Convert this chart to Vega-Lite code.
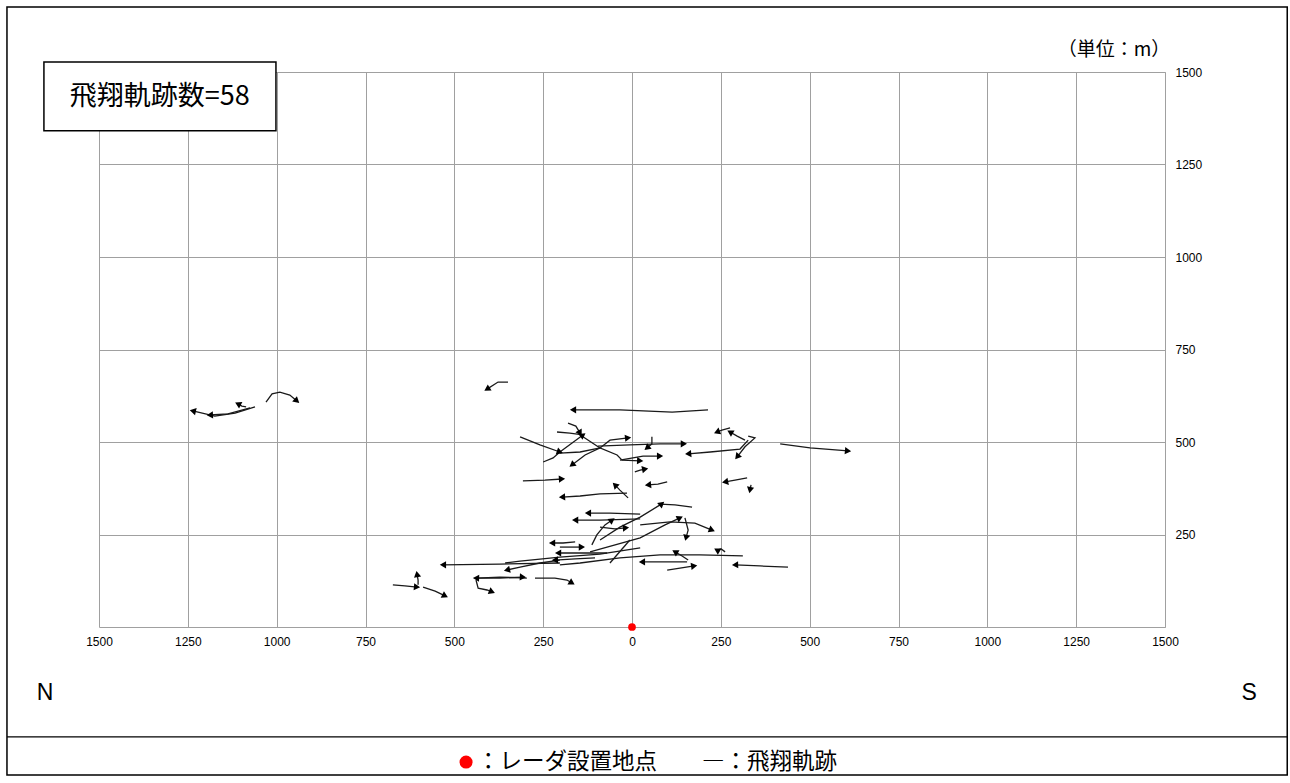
{
  "$schema": "https://vega.github.io/schema/vega-lite/v6.json",
  "width": 1066,
  "height": 555,
  "autosize": {"type": "none"},
  "padding": {"left": 99, "top": 72, "right": 125, "bottom": 156},
  "background": "white",
  "config": {"view": {"stroke": null}, "font": "Liberation Sans"},
  "datasets": {
    "tracks": [
      {"t":1,"o":1,"x":-1061,"y":595},{"t":1,"o":2,"x":-1117,"y":578},{"t":1,"o":3,"x":-1174,"y":570},{"t":1,"o":4,"x":-1236,"y":584},
      {"t":2,"o":1,"x":-1075,"y":592},{"t":2,"o":2,"x":-1137,"y":576},{"t":2,"o":3,"x":-1188,"y":573},
      {"t":3,"o":1,"x":-1086,"y":595},{"t":3,"o":2,"x":-1098,"y":597},{"t":3,"o":3,"x":-1109,"y":603},
      {"t":4,"o":1,"x":-1030,"y":608},{"t":4,"o":2,"x":-1013,"y":630},{"t":4,"o":3,"x":-991,"y":635},{"t":4,"o":4,"x":-963,"y":627},{"t":4,"o":5,"x":-943,"y":611},
      {"t":5,"o":1,"x":-349,"y":662},{"t":5,"o":2,"x":-377,"y":662},{"t":5,"o":3,"x":-408,"y":643},
      {"t":6,"o":1,"x":214,"y":587},{"t":6,"o":2,"x":113,"y":581},{"t":6,"o":3,"x":-34,"y":587},{"t":6,"o":4,"x":-166,"y":587},
      {"t":7,"o":1,"x":-315,"y":514},{"t":7,"o":2,"x":-259,"y":492},{"t":7,"o":3,"x":-203,"y":473},
      {"t":8,"o":1,"x":-250,"y":446},{"t":8,"o":2,"x":-222,"y":457},{"t":8,"o":3,"x":-203,"y":473},{"t":8,"o":4,"x":-138,"y":519},
      {"t":9,"o":1,"x":-211,"y":527},{"t":9,"o":2,"x":-175,"y":524},{"t":9,"o":3,"x":-138,"y":519},
      {"t":10,"o":1,"x":-180,"y":551},{"t":10,"o":2,"x":-158,"y":543},{"t":10,"o":3,"x":-146,"y":524},
      {"t":11,"o":1,"x":-138,"y":514},{"t":11,"o":2,"x":-90,"y":484},{"t":11,"o":3,"x":-62,"y":505},{"t":11,"o":4,"x":-11,"y":511},
      {"t":12,"o":1,"x":-90,"y":484},{"t":12,"o":2,"x":-132,"y":465},{"t":12,"o":3,"x":-169,"y":438},
      {"t":13,"o":1,"x":-203,"y":470},{"t":13,"o":2,"x":-146,"y":473},{"t":13,"o":3,"x":-90,"y":484},{"t":13,"o":4,"x":-42,"y":465},{"t":13,"o":5,"x":-28,"y":451},{"t":13,"o":6,"x":23,"y":449},
      {"t":14,"o":1,"x":-307,"y":395},{"t":14,"o":2,"x":-245,"y":397},{"t":14,"o":3,"x":-197,"y":400},
      {"t":15,"o":1,"x":-96,"y":489},{"t":15,"o":2,"x":-6,"y":492},{"t":15,"o":3,"x":79,"y":495},{"t":15,"o":4,"x":146,"y":495},
      {"t":16,"o":1,"x":56,"y":514},{"t":16,"o":2,"x":56,"y":495},{"t":16,"o":3,"x":42,"y":484},
      {"t":17,"o":1,"x":-34,"y":451},{"t":17,"o":2,"x":31,"y":462},{"t":17,"o":3,"x":79,"y":462},
      {"t":18,"o":1,"x":8,"y":419},{"t":18,"o":2,"x":23,"y":424},{"t":18,"o":3,"x":37,"y":427},
      {"t":19,"o":1,"x":99,"y":392},{"t":19,"o":2,"x":73,"y":386},{"t":19,"o":3,"x":45,"y":384},
      {"t":20,"o":1,"x":327,"y":505},{"t":20,"o":2,"x":304,"y":481},{"t":20,"o":3,"x":220,"y":473},{"t":20,"o":4,"x":158,"y":468},
      {"t":21,"o":1,"x":276,"y":538},{"t":21,"o":2,"x":253,"y":532},{"t":21,"o":3,"x":239,"y":527},
      {"t":22,"o":1,"x":318,"y":505},{"t":22,"o":2,"x":296,"y":516},{"t":22,"o":3,"x":276,"y":527},
      {"t":23,"o":1,"x":327,"y":516},{"t":23,"o":2,"x":346,"y":511},{"t":23,"o":3,"x":318,"y":487},{"t":23,"o":4,"x":296,"y":460},
      {"t":24,"o":1,"x":324,"y":403},{"t":24,"o":2,"x":290,"y":397},{"t":24,"o":3,"x":262,"y":392},
      {"t":25,"o":1,"x":335,"y":384},{"t":25,"o":2,"x":332,"y":370},
      {"t":26,"o":1,"x":417,"y":495},{"t":26,"o":2,"x":501,"y":484},{"t":26,"o":3,"x":608,"y":476},
      {"t":27,"o":1,"x":-14,"y":362},{"t":27,"o":2,"x":-90,"y":360},{"t":27,"o":3,"x":-146,"y":354},{"t":27,"o":4,"x":-197,"y":351},
      {"t":28,"o":1,"x":-11,"y":349},{"t":28,"o":2,"x":-34,"y":370},{"t":28,"o":3,"x":-48,"y":384},
      {"t":29,"o":1,"x":23,"y":305},{"t":29,"o":2,"x":-62,"y":308},{"t":29,"o":3,"x":-124,"y":308},
      {"t":30,"o":1,"x":23,"y":292},{"t":30,"o":2,"x":-90,"y":289},{"t":30,"o":3,"x":-160,"y":289},
      {"t":31,"o":1,"x":-113,"y":222},{"t":31,"o":2,"x":-99,"y":249},{"t":31,"o":3,"x":-76,"y":276},{"t":31,"o":4,"x":-56,"y":289},
      {"t":32,"o":1,"x":-90,"y":270},{"t":32,"o":2,"x":-48,"y":265},{"t":32,"o":3,"x":-17,"y":268},
      {"t":33,"o":1,"x":-160,"y":230},{"t":33,"o":2,"x":-194,"y":227},{"t":33,"o":3,"x":-225,"y":227},
      {"t":34,"o":1,"x":-90,"y":235},{"t":34,"o":2,"x":-34,"y":270},{"t":34,"o":3,"x":23,"y":297},{"t":34,"o":4,"x":79,"y":330},
      {"t":35,"o":1,"x":169,"y":324},{"t":35,"o":2,"x":121,"y":330},{"t":35,"o":3,"x":79,"y":332},
      {"t":36,"o":1,"x":23,"y":276},{"t":36,"o":2,"x":107,"y":284},{"t":36,"o":3,"x":177,"y":281},{"t":36,"o":4,"x":225,"y":262},
      {"t":37,"o":1,"x":149,"y":295},{"t":37,"o":2,"x":158,"y":262},{"t":37,"o":3,"x":152,"y":241},
      {"t":38,"o":1,"x":-118,"y":203},{"t":38,"o":2,"x":23,"y":241},{"t":38,"o":3,"x":93,"y":276},{"t":38,"o":4,"x":135,"y":295},
      {"t":39,"o":1,"x":-203,"y":173},{"t":39,"o":2,"x":-372,"y":170},{"t":39,"o":3,"x":-532,"y":168},
      {"t":40,"o":1,"x":-203,"y":181},{"t":40,"o":2,"x":-259,"y":173},{"t":40,"o":3,"x":-315,"y":162},{"t":40,"o":4,"x":-352,"y":154},
      {"t":41,"o":1,"x":-296,"y":132},{"t":41,"o":2,"x":-372,"y":135},{"t":41,"o":3,"x":-439,"y":132},
      {"t":42,"o":1,"x":-439,"y":127},{"t":42,"o":2,"x":-433,"y":105},{"t":42,"o":3,"x":-408,"y":100},{"t":42,"o":4,"x":-394,"y":95},
      {"t":43,"o":1,"x":-673,"y":114},{"t":43,"o":2,"x":-639,"y":111},{"t":43,"o":3,"x":-605,"y":108},
      {"t":44,"o":1,"x":-602,"y":114},{"t":44,"o":2,"x":-602,"y":127},{"t":44,"o":3,"x":-605,"y":143},
      {"t":45,"o":1,"x":-588,"y":108},{"t":45,"o":2,"x":-554,"y":97},{"t":45,"o":3,"x":-526,"y":84},
      {"t":46,"o":1,"x":-203,"y":216},{"t":46,"o":2,"x":-175,"y":216},{"t":46,"o":3,"x":-141,"y":216},
      {"t":47,"o":1,"x":-70,"y":200},{"t":47,"o":2,"x":-132,"y":200},{"t":47,"o":3,"x":-208,"y":200},
      {"t":48,"o":1,"x":-104,"y":187},{"t":48,"o":2,"x":-160,"y":184},{"t":48,"o":3,"x":-217,"y":181},
      {"t":49,"o":1,"x":23,"y":214},{"t":49,"o":2,"x":-90,"y":197},{"t":49,"o":3,"x":-203,"y":189},{"t":49,"o":4,"x":-315,"y":178},{"t":49,"o":5,"x":-357,"y":173},
      {"t":50,"o":1,"x":-433,"y":132},{"t":50,"o":2,"x":-372,"y":132},{"t":50,"o":3,"x":-307,"y":135},
      {"t":51,"o":1,"x":-273,"y":132},{"t":51,"o":2,"x":-217,"y":132},{"t":51,"o":3,"x":-183,"y":127},{"t":51,"o":4,"x":-169,"y":119},
      {"t":52,"o":1,"x":312,"y":192},{"t":52,"o":2,"x":191,"y":195},{"t":52,"o":3,"x":79,"y":195},{"t":52,"o":4,"x":-34,"y":187},{"t":52,"o":5,"x":-146,"y":173},{"t":52,"o":6,"x":-203,"y":168},
      {"t":53,"o":1,"x":158,"y":181},{"t":53,"o":2,"x":141,"y":192},{"t":53,"o":3,"x":121,"y":203},
      {"t":54,"o":1,"x":155,"y":176},{"t":54,"o":2,"x":93,"y":176},{"t":54,"o":3,"x":28,"y":176},
      {"t":55,"o":1,"x":99,"y":154},{"t":55,"o":2,"x":135,"y":159},{"t":55,"o":3,"x":175,"y":165},
      {"t":56,"o":1,"x":262,"y":203},{"t":56,"o":2,"x":251,"y":211},{"t":56,"o":3,"x":239,"y":208},
      {"t":57,"o":1,"x":439,"y":162},{"t":57,"o":2,"x":360,"y":165},{"t":57,"o":3,"x":290,"y":168},
      {"t":58,"o":1,"x":-62,"y":173},{"t":58,"o":2,"x":-6,"y":235}
    ],
    "heads": [
      {"x":-1236,"y":584,"h":283},{"x":-1188,"y":573,"h":267},{"x":-1109,"y":603,"h":297},{"x":-943,"y":611,"h":131},
      {"x":-408,"y":643,"h":238},{"x":-166,"y":587,"h":270},{"x":-203,"y":473,"h":109},{"x":-138,"y":519,"h":54},
      {"x":-146,"y":524,"h":150},{"x":-11,"y":511,"h":84},{"x":-169,"y":438,"h":232},{"x":23,"y":449,"h":93},
      {"x":-197,"y":400,"h":87},{"x":146,"y":495,"h":90},{"x":42,"y":484,"h":231},{"x":79,"y":462,"h":90},
      {"x":37,"y":427,"h":79},{"x":45,"y":384,"h":264},{"x":158,"y":468,"h":265},{"x":239,"y":527,"h":248},
      {"x":276,"y":527,"h":300},{"x":296,"y":460,"h":219},{"x":262,"y":392,"h":259},{"x":332,"y":370,"h":191},
      {"x":608,"y":476,"h":95},{"x":-197,"y":351,"h":267},{"x":-48,"y":384,"h":315},{"x":-124,"y":308,"h":270},
      {"x":-160,"y":289,"h":270},{"x":-56,"y":289,"h":55},{"x":-17,"y":268,"h":85},{"x":-225,"y":227,"h":270},
      {"x":79,"y":332,"h":290},{"x":225,"y":262,"h":112},{"x":152,"y":241,"h":194},{"x":135,"y":295,"h":65},
      {"x":-532,"y":168,"h":270},{"x":-352,"y":154,"h":257},{"x":-439,"y":132,"h":272},{"x":-394,"y":95,"h":112},
      {"x":-605,"y":108,"h":95},{"x":-605,"y":143,"h":350},{"x":-526,"y":84,"h":117},{"x":-141,"y":216,"h":90},
      {"x":-208,"y":200,"h":270},{"x":-217,"y":181,"h":267},{"x":-307,"y":135,"h":93},{"x":-169,"y":119,"h":121},
      {"x":121,"y":203,"h":300},{"x":28,"y":176,"h":270},{"x":175,"y":165,"h":82},{"x":239,"y":208,"h":300},
      {"x":290,"y":168,"h":268}
    ],
    "radar": [{"x":0,"y":0}]
  },
  "layer": [
    {
      "data": {"name": "tracks"},
      "mark": {"type": "line", "color": "#1a1a1a", "strokeWidth": 1.3, "clip": true},
      "encoding": {
        "x": {
          "field": "x", "type": "quantitative",
          "scale": {"domain": [-1500, 1500], "nice": false, "zero": false},
          "axis": {
            "values": [-1500,-1250,-1000,-750,-500,-250,0,250,500,750,1000,1250,1500],
            "labelExpr": "abs(datum.value)",
            "title": null, "grid": true, "gridColor": "#a0a0a0", "gridWidth": 1,
            "domainColor": "#a0a0a0", "ticks": false, "labelPadding": 9,
            "labelFontSize": 12, "labelFlush": false, "labelColor": "black", "labelFont": "Liberation Sans"
          }
        },
        "y": {
          "field": "y", "type": "quantitative",
          "scale": {"domain": [0, 1500], "nice": false, "zero": false},
          "axis": {
            "orient": "right",
            "values": [250,500,750,1000,1250,1500],
            "format": "d",
            "title": null, "grid": true, "gridColor": "#a0a0a0", "gridWidth": 1,
            "domainColor": "#a0a0a0", "ticks": false, "labelPadding": 10,
            "labelFontSize": 12, "labelColor": "black", "labelFont": "Liberation Sans"
          }
        },
        "detail": {"field": "t", "type": "nominal"},
        "order": {"field": "o", "type": "quantitative"}
      }
    },
    {
      "data": {"name": "heads"},
      "mark": {"type": "point", "shape": "triangle-up", "filled": true, "color": "black", "size": 52, "opacity": 1},
      "encoding": {
        "x": {"field": "x", "type": "quantitative"},
        "y": {"field": "y", "type": "quantitative"},
        "angle": {"field": "h", "type": "quantitative", "scale": null}
      }
    },
    {
      "data": {"name": "radar"},
      "mark": {"type": "circle", "color": "#ff0000", "size": 60, "opacity": 1},
      "encoding": {
        "x": {"field": "x", "type": "quantitative"},
        "y": {"field": "y", "type": "quantitative"}
      }
    },
    {
      "data": {"values": [{}]},
      "mark": {"type": "rect", "fill": null, "stroke": "black", "strokeWidth": 1.5},
      "encoding": {
        "x": {"datum": -1759, "type": "quantitative"}, "x2": {"datum": 1844},
        "y": {"datum": 1676, "type": "quantitative"}, "y2": {"datum": -400}
      }
    },
    {
      "data": {"values": [{}]},
      "mark": {"type": "rule", "color": "black", "strokeWidth": 1.2},
      "encoding": {
        "x": {"datum": -1759, "type": "quantitative"}, "x2": {"datum": 1844},
        "y": {"datum": -297, "type": "quantitative"}
      }
    },
    {
      "data": {"values": [{}]},
      "mark": {"type": "rect", "fill": "white", "stroke": "black", "strokeWidth": 1.5},
      "encoding": {
        "x": {"datum": -1655, "type": "quantitative"}, "x2": {"datum": -1002},
        "y": {"datum": 1527, "type": "quantitative"}, "y2": {"datum": 1341}
      }
    },
    {
      "data": {"values": [{}]},
      "mark": {"type": "text", "text": "飛翔軌跡数=58", "font": "Noto Sans CJK JP", "fontSize": 27, "align": "center", "baseline": "middle", "color": "black"},
      "encoding": {"x": {"datum": -1329, "type": "quantitative"}, "y": {"datum": 1432, "type": "quantitative"}}
    },
    {
      "data": {"values": [{}]},
      "mark": {"type": "text", "text": "（単位：m）", "font": "Noto Sans CJK JP", "fontSize": 19, "align": "right", "baseline": "middle", "color": "black"},
      "encoding": {"x": {"datum": 1515, "type": "quantitative"}, "y": {"datum": 1560, "type": "quantitative"}}
    },
    {
      "data": {"values": [{}]},
      "mark": {"type": "text", "text": "N", "font": "Liberation Sans", "fontSize": 23, "align": "center", "baseline": "middle", "color": "black"},
      "encoding": {"x": {"datum": -1652, "type": "quantitative"}, "y": {"datum": -178, "type": "quantitative"}}
    },
    {
      "data": {"values": [{}]},
      "mark": {"type": "text", "text": "S", "font": "Liberation Sans", "fontSize": 23, "align": "center", "baseline": "middle", "color": "black"},
      "encoding": {"x": {"datum": 1737, "type": "quantitative"}, "y": {"datum": -178, "type": "quantitative"}}
    },
    {
      "data": {"values": [{}]},
      "mark": {"type": "circle", "color": "#ff0000", "size": 170, "opacity": 1},
      "encoding": {"x": {"datum": -467, "type": "quantitative"}, "y": {"datum": -365, "type": "quantitative"}}
    },
    {
      "data": {"values": [{}]},
      "mark": {"type": "text", "text": "：レーダ設置地点　　―：飛翔軌跡", "font": "Noto Sans CJK JP", "fontSize": 22.5, "align": "left", "baseline": "middle", "color": "black"},
      "encoding": {"x": {"datum": -436, "type": "quantitative"}, "y": {"datum": -365, "type": "quantitative"}}
    }
  ]
}
